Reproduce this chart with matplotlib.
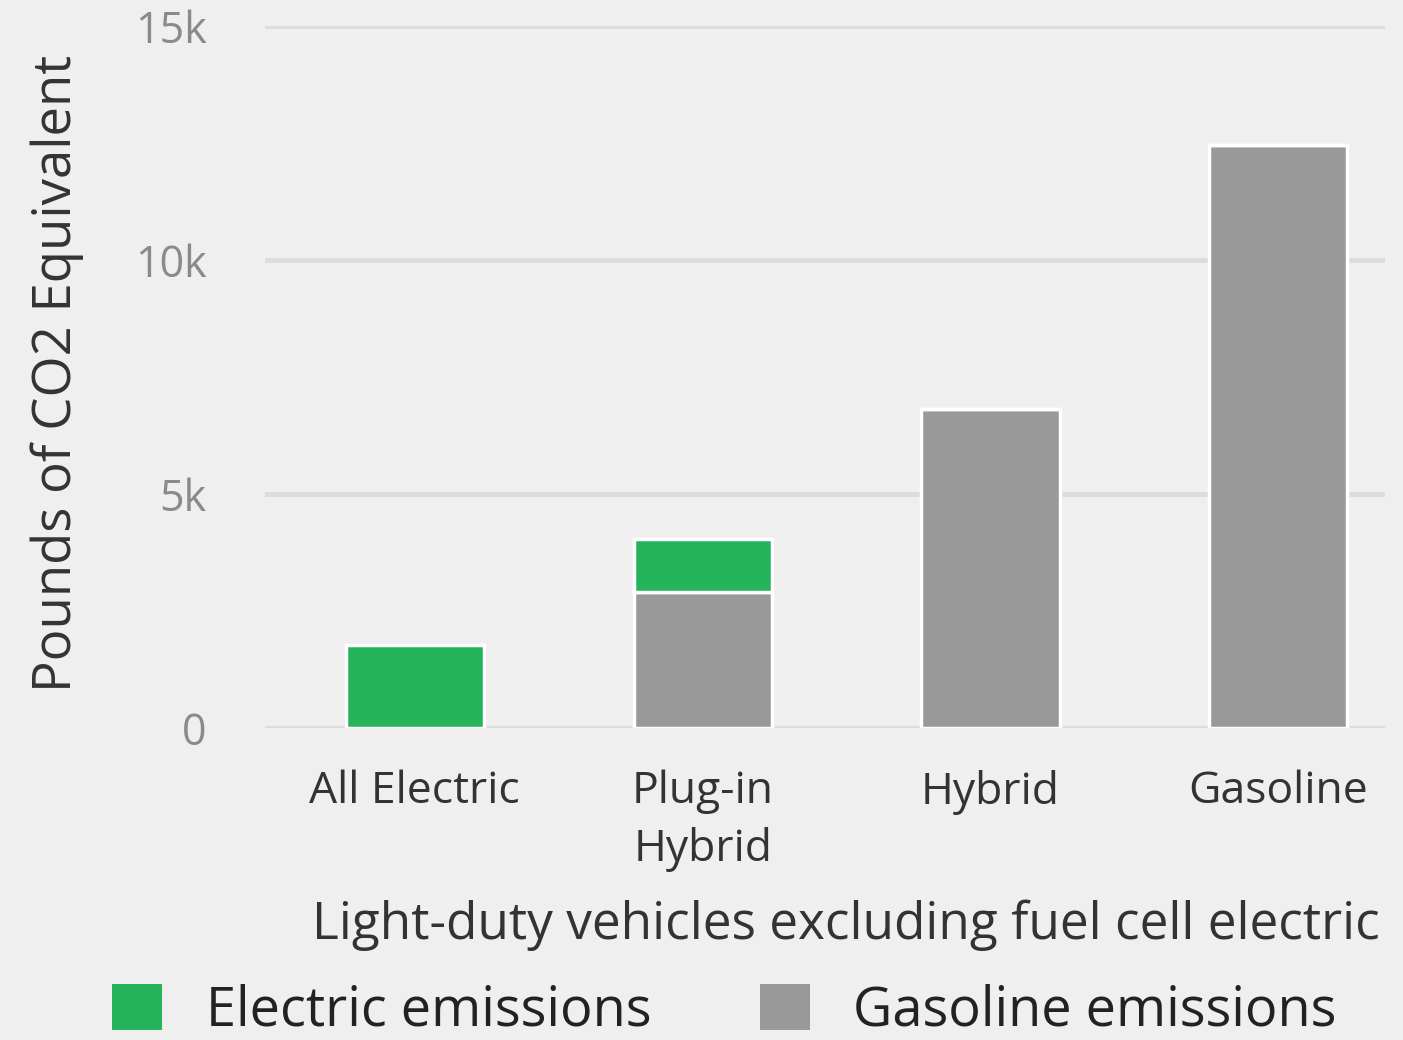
import matplotlib
matplotlib.use("Agg")
import matplotlib.pyplot as plt
from matplotlib.patches import Patch

# Lifetime emissions per vehicle type (pounds of CO2 equivalent)
categories = ["All Electric", "Plug-in\nHybrid", "Hybrid", "Gasoline"]
electric_emissions = [1770, 1140, 0, 0]
gasoline_emissions = [0, 2900, 6810, 12460]
y_ticks = [0, 5000, 10000, 15000]
y_tick_labels = ["0", "5k", "10k", "15k"]

GREEN = "#25b45b"
GRAY = "#999999"
BG = "#efefef"

plt.rcParams["font.family"] = ["Open Sans", "DejaVu Sans"]

fig = plt.figure(figsize=(14.03, 10.40), dpi=100, facecolor=BG)
ax = fig.add_axes([0.189, 0.30, 0.798, 0.675], facecolor=BG)

x = range(len(categories))
bar_w = 0.48
ax.bar(x, gasoline_emissions, width=bar_w, color=GRAY,
       edgecolor="white", linewidth=2.5, zorder=3)
ax.bar(x, electric_emissions, width=bar_w, bottom=gasoline_emissions,
       color=GREEN, edgecolor="white", linewidth=2.5, zorder=3)

ax.set_ylim(0, 15000)
ax.set_xlim(-0.52, 3.37)
ax.set_yticks(y_ticks)
ax.set_yticklabels(y_tick_labels)
ax.set_xticks(list(x))
ax.set_xticklabels(categories, linespacing=1.38)

ax.grid(axis="y", color="#dcdcdc", linewidth=3.5, zorder=0)
ax.set_axisbelow(True)
for s in ax.spines.values():
    s.set_visible(False)

ax.tick_params(axis="y", length=0, pad=42, labelsize=31, labelcolor="#8a8a8a")
ax.tick_params(axis="x", length=0, pad=30, labelsize=32, labelcolor="#333333")

ax.set_ylabel("Pounds of CO2 Equivalent", fontsize=38, color="#333333")
ax.yaxis.set_label_coords(-0.162, 0.505)
ax.set_xlabel("Light-duty vehicles excluding fuel cell electric",
              fontsize=37, color="#333333")
ax.xaxis.set_label_coords(0.519, -0.245)

handles = [Patch(facecolor=GREEN, edgecolor="none"),
           Patch(facecolor=GRAY, edgecolor="none")]
fig.legend(handles, ["Electric emissions", "Gasoline emissions"],
           loc="center left", bbox_to_anchor=(0.0798, 0.028), ncol=2,
           frameon=False, fontsize=39, handlelength=0.93, handleheight=0.93,
           handletextpad=0.8, columnspacing=2.0, borderpad=0,
           borderaxespad=0, labelcolor="#222222")

fig.savefig("out.png", dpi=100, facecolor=BG)
